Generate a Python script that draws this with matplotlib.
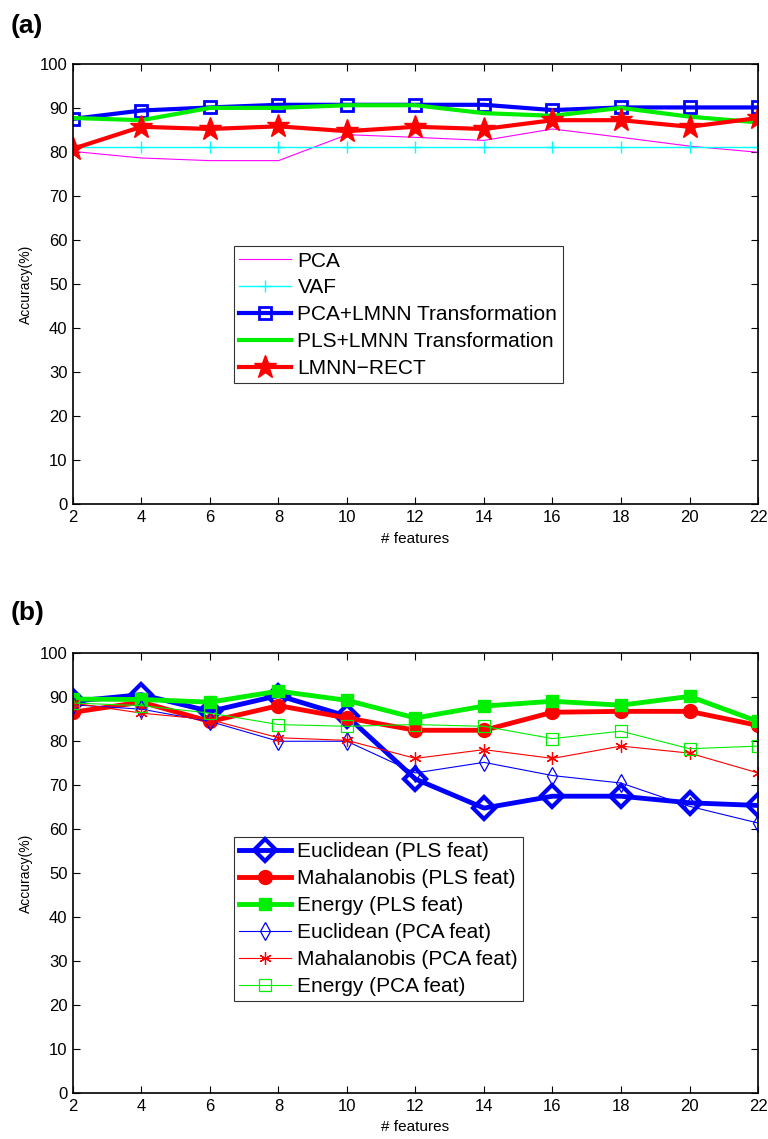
import numpy as np
import matplotlib
matplotlib.use("Agg")
import matplotlib.pyplot as plt

plt.rcParams['font.family'] = ['Liberation Sans', 'DejaVu Sans']

# ── Data ─────────────────────────────
features = [2, 4, 6, 8, 10, 12, 14, 16, 18, 20, 22]

# panel (a)
pca      = [80.2, 78.7, 78.1, 78.1, 84.0, 83.4, 82.7, 85.3, 83.4, 81.4, 80.0]
vaf      = [81.1, 81.1, 81.1, 81.1, 81.1, 81.1, 81.1, 81.1, 81.1, 81.1, 81.1]
pca_lmnn = [87.6, 89.5, 90.2, 90.8, 90.8, 90.8, 90.8, 89.6, 90.2, 90.2, 90.2]
pls_lmnn = [87.8, 87.3, 90.1, 90.1, 90.7, 90.7, 88.9, 88.3, 90.1, 88.1, 86.8]
lmnn_rect = [80.8, 85.8, 85.3, 85.9, 84.8, 85.8, 85.3, 87.3, 87.3, 85.8, 87.8]

# panel (b)
eucl_pls = [89.1, 90.6, 86.8, 90.4, 85.7, 71.4, 64.8, 67.5, 67.5, 66.0, 65.4]
maha_pls = [86.6, 88.9, 84.5, 88.1, 85.3, 82.5, 82.5, 86.6, 86.8, 86.8, 83.6]
ener_pls = [89.6, 89.5, 88.9, 91.4, 89.3, 85.3, 88.0, 89.1, 88.2, 90.2, 84.5]
eucl_pca = [88.3, 87.3, 84.5, 80.0, 80.0, 72.8, 75.2, 72.2, 70.5, 65.2, 61.4]
maha_pca = [88.7, 86.4, 84.9, 80.8, 80.2, 76.1, 78.1, 76.1, 78.9, 77.3, 72.8]
ener_pca = [88.7, 88.1, 86.4, 83.8, 83.4, 83.8, 83.4, 80.6, 82.3, 78.3, 78.9]

asterisk = (6, 2, 0)

fig = plt.figure(figsize=(7.68, 11.39), dpi=100)
ax1 = fig.add_axes([0.095, 0.5575, 0.892, 0.386])
ax2 = fig.add_axes([0.095, 0.0404, 0.892, 0.386])

# ============================================================
# (a)
# ============================================================
ax1.plot(features, pca, color='magenta', lw=0.8, label='PCA')
ax1.plot(features, vaf, color='cyan', lw=1, marker='+', ms=8, label='VAF')
ax1.plot(features, pca_lmnn, color='blue', lw=3, marker='s', ms=8,
         mfc='none', mew=2, label='PCA+LMNN Transformation')
ax1.plot(features, pls_lmnn, color='#00ee00', lw=3, label='PLS+LMNN Transformation')
ax1.plot(features, lmnn_rect, color='red', lw=3, marker='*', ms=17,
         label='LMNN\u2212RECT')

leg_kw = dict(fontsize=15, frameon=True, fancybox=False, edgecolor='black',
              borderpad=0.25, labelspacing=0.38, handlelength=2.5,
              handletextpad=0.3, borderaxespad=0)

leg1 = ax1.legend(loc='upper left', bbox_to_anchor=(0.235, 0.586), **leg_kw)
leg1.get_frame().set_linewidth(0.8)

# ============================================================
# (b)
# ============================================================
ax2.plot(features, eucl_pls, color='blue', lw=3.5, marker='D', ms=11,
         mfc='none', mew=3, label='Euclidean (PLS feat)')
ax2.plot(features, maha_pls, color='red', lw=3.5, marker='o', ms=10,
         label='Mahalanobis (PLS feat)')
ax2.plot(features, ener_pls, color='#00ee00', lw=3.5, marker='s', ms=9,
         label='Energy (PLS feat)')
ax2.plot(features, eucl_pca, color='blue', lw=0.8, marker='d', ms=9,
         mfc='none', mew=0.9, label='Euclidean (PCA feat)')
ax2.plot(features, maha_pca, color='red', lw=0.8, marker=asterisk, ms=9,
         mew=0.9, label='Mahalanobis (PCA feat)')
ax2.plot(features, ener_pca, color='#00ee00', lw=0.8, marker='s', ms=8,
         mfc='none', mew=0.9, label='Energy (PCA feat)')

leg2 = ax2.legend(loc='upper left', bbox_to_anchor=(0.235, 0.582), **leg_kw)
leg2.get_frame().set_linewidth(0.8)

for ax in (ax1, ax2):
    ax.set_xlim(2, 22)
    ax.set_ylim(0, 100)
    ax.set_xticks(features)
    ax.set_yticks(np.arange(0, 101, 10))
    ax.tick_params(direction='in', top=True, right=True, labelsize=12,
                   length=5, width=0.8, pad=4)
    ax.set_xlabel('# features', fontsize=11, labelpad=5)
    ax.set_ylabel('Accuracy(%)', fontsize=10, labelpad=5)
    for s in ax.spines.values():
        s.set_linewidth(1.2)

fig.text(0.014, 0.977, '(a)', fontsize=19, fontweight='bold', va='center')
fig.text(0.014, 0.462, '(b)', fontsize=19, fontweight='bold', va='center')

fig.savefig('out.png', dpi=100)
